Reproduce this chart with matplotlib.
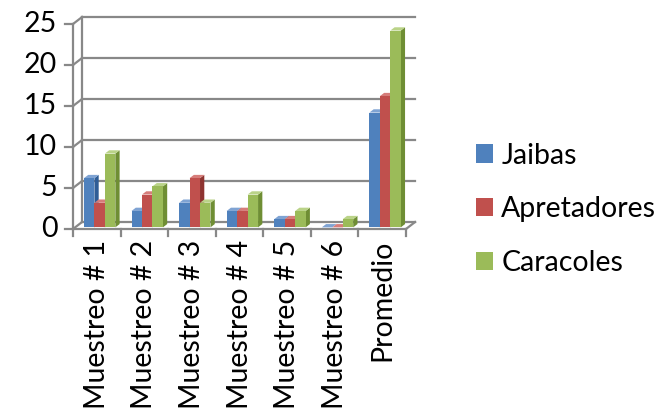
import matplotlib
matplotlib.use("Agg")
import matplotlib.pyplot as plt
from matplotlib.patches import Polygon, Patch

plt.rcParams['font.family'] = ['Lato', 'DejaVu Sans']

categories = ['Muestreo # 1', 'Muestreo # 2', 'Muestreo # 3', 'Muestreo # 4',
              'Muestreo # 5', 'Muestreo # 6', 'Promedio']
jaibas = [6, 2, 3, 2, 1, 0, 14]
apretadores = [3, 4, 6, 2, 1, 0, 16]
caracoles = [9, 5, 3, 4, 2, 1, 24]
series_names = ['Jaibas', 'Apretadores', 'Caracoles']
y_ticks = [0, 5, 10, 15, 20, 25]

# face colours: front, side, top
colors = [('#4F81BD', '#2F5D96', '#7FA3D3'),
          ('#C0504D', '#8E3330', '#D67D7A'),
          ('#9BBB59', '#6F8E34', '#BAD388')]

fs = 20.5

fig = plt.figure(figsize=(6.69, 4.09), dpi=100)
ax = fig.add_axes([73 / 669, (409 - 229) / 409, (406 - 73) / 669, (229 - 24) / 409])
ax.set_xlim(0, len(categories))
ax.set_ylim(0, 25)
ax.axis('off')

# 3d wall offset (data units)
wdx, wdy = 0.19, 0.85
grid_c = '#888888'
lw = 1.6

# back wall gridlines + left wall
for t in y_ticks:
    ax.plot([wdx, len(categories) + wdx], [t + wdy, t + wdy], color=grid_c, lw=lw, clip_on=False, zorder=1)
    ax.plot([0, wdx], [t, t + wdy], color=grid_c, lw=lw, clip_on=False, zorder=1)
    ax.plot([-0.17, 0], [t, t], color=grid_c, lw=lw, clip_on=False, zorder=1)
    ax.text(-0.33, t, str(t), ha='right', va='center', fontsize=fs, clip_on=False)
ax.plot([wdx, wdx], [wdy, 25 + wdy], color=grid_c, lw=lw, clip_on=False, zorder=1)
ax.plot([0, 0], [0, 25], color=grid_c, lw=lw, clip_on=False, zorder=1)
# floor
n = len(categories)
ax.plot([0, n], [0, 0], color=grid_c, lw=lw, clip_on=False, zorder=1)
ax.plot([n, n + wdx], [0, wdy], color=grid_c, lw=lw, clip_on=False, zorder=1)
for i in range(n + 1):
    ax.plot([i, i], [0, -0.9], color=grid_c, lw=lw, clip_on=False, zorder=1)

# bars
gap, bw = 0.23, 0.22
base = 0.2
sdx, sdy = 0.09, 0.4
data = [jaibas, apretadores, caracoles]
for i in range(n):
    for s, vals in enumerate(data):
        v = vals[i]
        x0 = i + gap + s * bw
        x1 = x0 + bw
        y0, y1 = base, base + v
        front, side, top = colors[s]
        ax.add_patch(Polygon([(x1, y0), (x1 + sdx, y0 + sdy), (x1 + sdx, y1 + sdy), (x1, y1)],
                             closed=True, fc=side, ec='none', clip_on=False, zorder=2))
        ax.add_patch(Polygon([(x0, y1), (x1, y1), (x1 + sdx, y1 + sdy), (x0 + sdx, y1 + sdy)],
                             closed=True, fc=top, ec='none', clip_on=False, zorder=2))
        ax.add_patch(Polygon([(x0, y0), (x1, y0), (x1, y1), (x0, y1)],
                             closed=True, fc=front, ec='none', clip_on=False, zorder=2))

for i, c in enumerate(categories):
    ax.text(i + 0.5, -1.3, c, rotation=90, ha='center', va='top', fontsize=fs, clip_on=False)

handles = [Patch(fc=c[0], ec='none') for c in colors]
fig.legend(handles, series_names, loc='center left', bbox_to_anchor=(0.694, 0.488),
           frameon=False, fontsize=fs, handlelength=0.6, handleheight=0.6,
           handletextpad=0.3, labelspacing=0.98, borderaxespad=0)

fig.savefig('out.png', dpi=100)
